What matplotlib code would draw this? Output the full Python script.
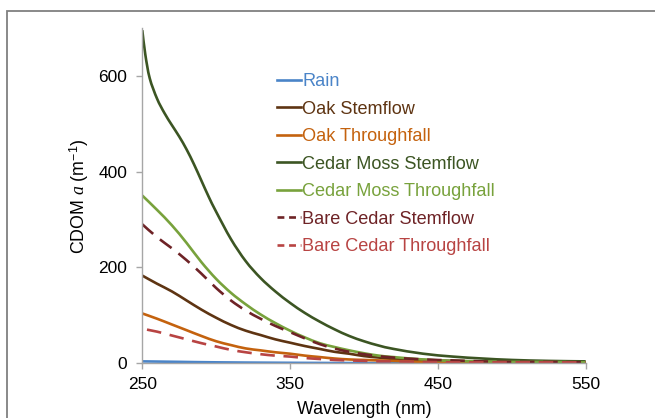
import matplotlib
matplotlib.use("Agg")
import numpy as np
import matplotlib.pyplot as plt
from matplotlib.patches import Rectangle, PathPatch
from matplotlib.path import Path
from matplotlib.lines import Line2D

plt.rcParams["font.family"] = ["Liberation Sans", "DejaVu Sans"]
plt.rcParams["mathtext.fontset"] = "custom"
plt.rcParams["mathtext.rm"] = "Liberation Sans"
plt.rcParams["mathtext.it"] = "Liberation Serif:italic"

# Wavelengths (nm) and CDOM absorption (m-1)
wl_rain = [250, 275, 300, 350, 400, 450, 500, 550]
rain = [4, 3, 2, 1, 0.5, 0.3, 0.2, 0.1]

wl = [250, 260, 270, 280, 290, 300, 310, 320, 330, 340, 350, 360, 370,
      380, 390, 400, 410, 420, 440, 460, 480, 500, 525, 550]
oak_stem = [183, 166, 150, 131, 112, 95, 80, 68, 59, 50, 43, 36, 30,
            24, 20, 15, 12, 9, 7, 5, 4, 3, 2, 2]
oak_through = [104, 93, 81, 69, 57, 46, 38, 31, 27, 23, 20, 16, 13,
               10, 8, 7, 6, 5, 3, 2, 2, 1.5, 1, 1]
cedar_moss_through = [350, 320, 288, 251, 211, 176, 147, 123, 102, 84, 68, 54, 42,
                      34, 27, 21, 16, 13, 8, 5, 4, 3, 3, 2]
bare_cedar_stem = [290, 263, 240, 215, 187, 157, 131, 110, 93, 78, 65, 52, 40,
                   31, 24, 19, 15, 12, 8, 6, 4, 3, 3, 2]
bare_cedar_through = [72, 66, 58, 50, 42, 35, 28, 23, 19, 16, 14, 11, 9,
                      7, 6, 5, 4, 4, 3, 2, 2, 2, 2, 2]

wl_cms = [250, 252, 255, 260, 265, 270, 275, 280, 285, 290, 295, 300, 310,
          320, 330, 340, 350, 360, 370, 380, 390, 400, 410, 420, 440, 460,
          480, 500, 525, 550]
cedar_moss_stem = [695, 645, 595, 552, 522, 497, 473, 446, 415, 381, 347, 316, 259,
                   213, 178, 150, 126, 105, 87, 71, 57, 46, 37, 30, 20, 14,
                   10, 7, 5, 4]

labels = ["Rain", "Oak Stemflow", "Oak Throughfall", "Cedar Moss Stemflow",
          "Cedar Moss Throughfall", "Bare Cedar Stemflow", "Bare Cedar Throughfall"]
colors = ["#4a84c8", "#5e3412", "#c4620e", "#3c5523", "#78a23c", "#6e2326", "#b84443"]


def smooth_line(ax, x, y, **kw):
    """Draw a smoothed (Catmull-Rom style) line through the points, like Excel does."""
    p = np.column_stack([x, y]).astype(float)
    ext = np.vstack([p[0], p, p[-1]])
    verts = [p[0]]
    codes = [Path.MOVETO]
    for i in range(len(p) - 1):
        p0, p1, p2, p3 = ext[i], ext[i + 1], ext[i + 2], ext[i + 3]
        verts += [p1 + (p2 - p0) / 6, p2 - (p3 - p1) / 6, p2]
        codes += [Path.CURVE4] * 3
    ax.add_patch(PathPatch(Path(verts, codes), fill=False, capstyle="butt", **kw))


fig = plt.figure(figsize=(6.55, 4.18), dpi=100)
ax = fig.add_axes([142.3 / 655, 1 - 363.3 / 418, (585.7 - 142.3) / 655, (363.3 - 27.8) / 418])

lw = 1.9
smooth_line(ax, wl_rain, rain, color=colors[0], lw=lw)
smooth_line(ax, wl, oak_stem, color=colors[1], lw=lw)
smooth_line(ax, wl, oak_through, color=colors[2], lw=lw)
smooth_line(ax, wl_cms, cedar_moss_stem, color=colors[3], lw=lw)
smooth_line(ax, wl, cedar_moss_through, color=colors[4], lw=lw)
smooth_line(ax, wl, bare_cedar_stem, color=colors[5], lw=lw, ls=(0, (5.5, 3.3)))
smooth_line(ax, wl, bare_cedar_through, color=colors[6], lw=lw, ls=(7, (5.5, 3.3)))

ax.set_xlim(250, 550)
ax.set_ylim(0, 700)
ax.set_xticks([250, 350, 450, 550])
ax.set_yticks([0, 200, 400, 600])
for s in ["top", "right"]:
    ax.spines[s].set_visible(False)
for s in ["left", "bottom"]:
    ax.spines[s].set_color("#a6a6a6")
    ax.spines[s].set_linewidth(1.0)
ax.tick_params(direction="out", length=4, width=1.0, color="#a6a6a6",
               labelsize=12.5, labelcolor="black")
ax.tick_params(axis="x", pad=6)
ax.tick_params(axis="y", pad=7)

ax.set_xlabel("Wavelength (nm)", fontsize=12.8)
ax.xaxis.set_label_coords(0.5, -0.112)
fig.text(79 / 655, 1 - 196 / 418, r"CDOM $a$ (m$^{\mathregular{-1}}$)",
         rotation=90, ha="center", va="center", fontsize=12.8)

handles = [
    Line2D([], [], color=colors[i], lw=lw, ls=("-" if i < 5 else (0, (2.6, 1.8))))
    for i in range(7)
]
ax.legend(handles, labels, loc="upper left", bbox_to_anchor=(277 / 655, 1 - 73 / 418),
          bbox_transform=fig.transFigure, frameon=False, fontsize=13.1,
          handlelength=1.3, handletextpad=0.1, labelspacing=0.58,
          borderpad=0, borderaxespad=0, labelcolor="linecolor")

# outer frame
fig.add_artist(Rectangle((7 / 655, -0.1), 1.2, (418 - 11) / 418 + 0.1,
                         transform=fig.transFigure, fill=False,
                         edgecolor="#808080", lw=1.3))

fig.savefig("out.png", dpi=100)
